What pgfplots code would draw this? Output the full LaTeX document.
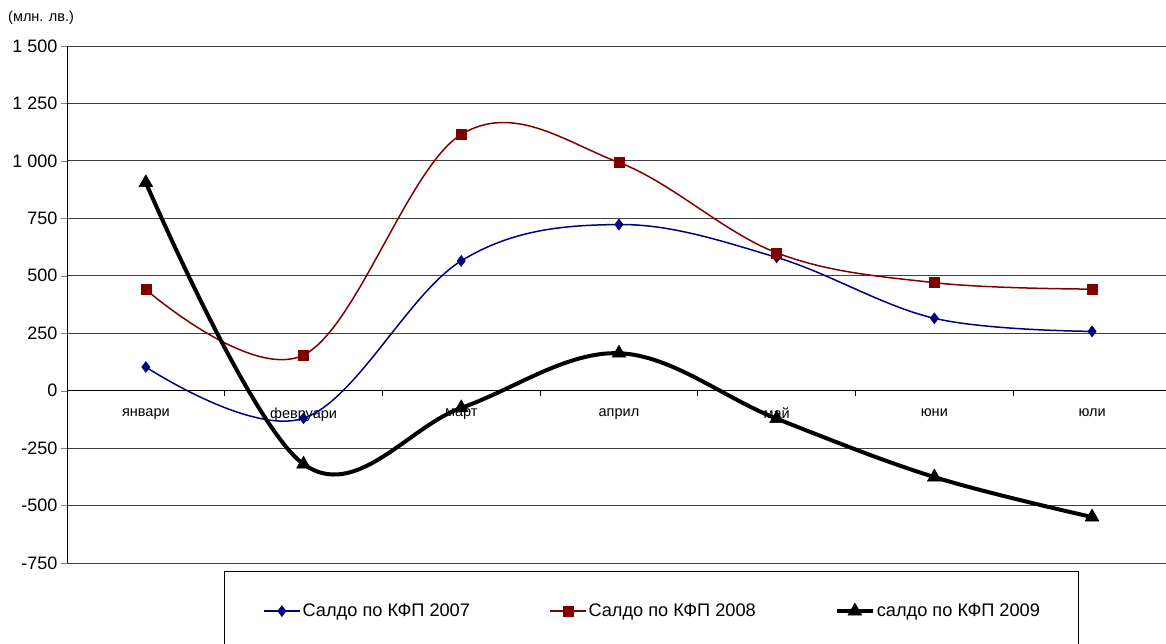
\documentclass[border=0pt]{standalone}
\usepackage{fontspec}
\setmainfont{Liberation Sans}
\usepackage{pgfplots}
\pgfplotsset{compat=1.18}
\definecolor{s07}{HTML}{000080}
\definecolor{s08}{HTML}{800000}
\begin{document}
\begin{tikzpicture}[x=1pt,y=1pt]
\clip (0,0) rectangle (1166,-644);
\useasboundingbox (0,0) rectangle (1166,-644);
\node[anchor=west, inner sep=0pt, font=\fontsize{14.5}{16}\selectfont] at (8,-18) {(млн. лв.)};
\begin{axis}[
    at={(67pt,-563pt)}, anchor=south west,
    scale only axis, width=1104pt, height=517pt,
    xmin=0.5, xmax=7.5, ymin=-750, ymax=1500,
    axis x line=middle, axis y line=left,
    axis line style={-, black, line width=1pt},
    xtick={1,...,7},
    xticklabels={январи,февруари,март,април,май,юни,юли},
    major x tick style={draw=none},
    minor xtick={1.5,2.5,...,7.5},
    minor x tick style={black, line width=0.8pt},
    minor tick length=5pt,
    xticklabel style={font=\fontsize{14.5}{16}\selectfont, yshift=-8pt},
    ytick={-750,-500,...,1500},
    yticklabels={-750,-500,-250,0,250,500,750,1 000,1 250,1 500},
    yticklabel style={font=\fontsize{18}{20}\selectfont},
    major tick length=6pt,
    tick align=outside,
    ymajorgrids, major grid style={black!75, line width=0.9pt},
    clip=false,
    legend columns=3,
    legend style={at={(axis description cs:0.1775,-0.093)}, anchor=west, draw=none, fill=none,
        font=\fontsize{18.2}{20}\selectfont,
        /tikz/every even column/.append style={column sep=77pt},
        inner sep=0pt},
    legend image code/.code={\draw[mark repeat=2,mark phase=2,#1]
        plot coordinates {(0pt,0pt) (18pt,0pt) (36pt,0pt)};},
]
\addplot[s07, line width=1.5pt, smooth, tension=0.6, mark=diamond*, mark size=5.5pt,
    mark options={fill=s07, line width=0.5pt}]
    coordinates {(1,103) (2,-120) (3,565) (4,723) (5,580) (6,315) (7,258)};
\addlegendentry{Салдо по КФП 2007}
\addplot[s08, line width=1.5pt, smooth, tension=0.6, mark=square*, mark size=5pt,
    mark options={fill=s08, line width=0.5pt}]
    coordinates {(1,440) (2,155) (3,1115) (4,993) (5,600) (6,470) (7,442)};
\addlegendentry{Салдо по КФП 2008}
\addplot[black, line width=4pt, smooth, tension=0.6, mark=triangle*, mark size=8pt,
    mark options={fill=black, line width=0.5pt}]
    coordinates {(1,905) (2,-320) (3,-75) (4,163) (5,-122) (6,-376) (7,-550)};
\addlegendentry{салдо по КФП 2009}
\end{axis}
\draw[black, line width=1pt] (224,-571) rectangle (1078,-660);
\end{tikzpicture}
\end{document}
